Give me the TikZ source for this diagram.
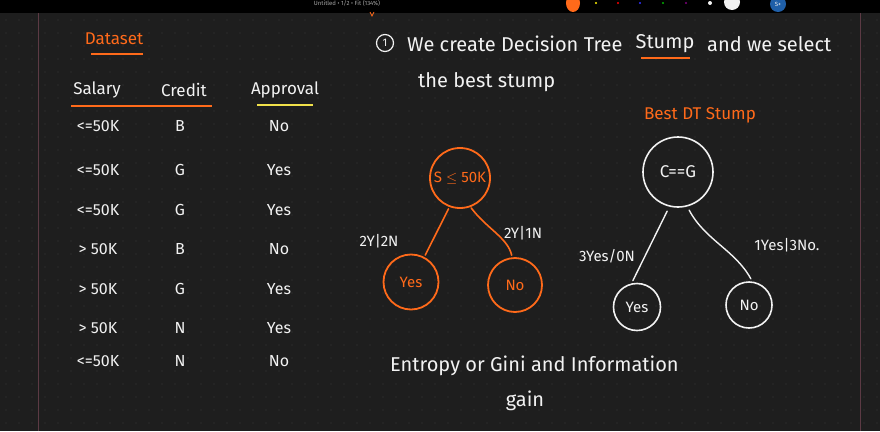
\documentclass[tikz,border=0pt]{standalone}
\usepackage{fontspec}
\setmainfont{Fira Sans}
\usetikzlibrary{positioning}
\definecolor{board}{HTML}{1E1E1E}
\definecolor{griddot}{HTML}{383838}
\definecolor{pen}{HTML}{FF6A1A}
\definecolor{chalk}{HTML}{F2F2F2}
\definecolor{marker}{HTML}{F0E04A}
\definecolor{margin}{HTML}{5C3A44}
\definecolor{barblue}{HTML}{1F5FA8}

\begin{document}
\begin{tikzpicture}[x=1pt,y=-1pt,
  txt/.style={text=chalk, font=\fontsize{16}{18}\selectfont, inner sep=0pt},
  head/.style={text=chalk, font=\fontsize{17}{19}\selectfont, inner sep=0pt},
  note/.style={text=chalk, font=\fontsize{20}{23}\selectfont, inner sep=0pt},
  otxt/.style={text=pen, font=\fontsize{17}{19}\selectfont, inner sep=0pt},
  onode/.style={circle, draw=pen, line width=1.8pt, text=pen,
                font=\fontsize{15}{17}\selectfont, inner sep=0pt},
  wnode/.style={circle, draw=chalk, line width=1.6pt, text=chalk,
                font=\fontsize{15}{17}\selectfont, inner sep=0pt},
  oedge/.style={draw=pen, line width=1.6pt, line cap=round},
  wedge/.style={draw=chalk, line width=1.4pt, line cap=round},
  elabel/.style={text=chalk, font=\fontsize{15}{17}\selectfont, inner sep=0pt},
  bartxt/.style={text=gray!70, font=\fontsize{6}{7}\selectfont, inner sep=0pt},
]
  \useasboundingbox (0,0) rectangle (880,431);
  \clip (0,0) rectangle (880,431);

  % Board with dot grid and margin lines
  \fill[board] (0,0) rectangle (880,431);
  \foreach \gx in {6,19,...,880}
    \foreach \gy in {20,33,...,431}
      \fill[griddot] (\gx,\gy) circle (0.55pt);
  \draw[margin, line width=0.8pt] (38,13) -- (38,431);
  \draw[margin, line width=0.8pt] (860,13) -- (860,431);

  % Toolbar strip across top
  \fill[black] (0,0) rectangle (880,13);
  \node[bartxt] (bartitle) at (347,3) {Untitled • 1/2 • Fit (134\%)};
  \fill[pen] (573,3) ellipse (7pt and 9pt);
  \foreach \dx/\dc in {596/yellow, 618/red, 640/blue!80, 663/green!70!black, 686/violet}
    \fill[\dc] (\dx,3) circle (1.2pt);
  \fill[chalk] (710,3) circle (2pt);
  \fill[chalk] (732,2) circle (8pt);
  \fill[barblue] (778,4) circle (8pt);
  \node[bartxt, text=chalk] (baruser) at (778,4) {S+};
  \draw[pen, line width=0.8pt] (370,12) -- (372,16) -- (374,12);

  % Dataset table
  \node[otxt] (dataset) at (114,39) {Dataset};
  \draw[pen, line width=1.6pt] (91,54) -- (143,54);
  \node[head] (salary) at (97,90) {Salary};
  \node[head] (credit) at (184,90) {Credit};
  \node[head] (approval) at (285,90) {Approval};
  \draw[pen, line width=1.8pt] (71,106) -- (212,106);
  \draw[marker, line width=1.8pt] (257,105) -- (313,105);
  \foreach \ry/\rs/\rc/\ra [count=\i] in {126/{<=50K}/B/No, 170/{<=50K}/G/Yes,
      210/{<=50K}/G/Yes, 249/{> 50K}/B/No, 289/{> 50K}/G/Yes,
      328/{> 50K}/N/Yes, 361/{<=50K}/N/No}{
    \node[txt] (sal\i) at (98,\ry) {\rs};
    \node[txt] (cre\i) at (180,\ry) {\rc};
    \node[txt] (app\i) at (279,\ry) {\ra};
  }

  % Step 1 text
  \node[circle, draw=chalk, line width=1.2pt, minimum size=17pt, inner sep=0pt,
        text=chalk, font=\fontsize{11}{12}\selectfont] (stepone) at (385,43) {1};
  \node[note, anchor=west] (stepa) at (407,44) {We create Decision Tree};
  \node[note] (stepstump) at (665,44) {Stump};
  \draw[pen, line width=1.6pt] (641,58) -- (690,58);
  \node[note, anchor=west] (stepb) at (707,44) {and we select};
  \node[note, anchor=west] (stepc) at (418,82) {the best stump};

  % Orange stump on salary
  \node[onode, minimum size=60pt] (sroot) at (460,178) {S $\leq$ 50K};
  \node[onode, minimum size=55pt] (syes) at (411,282) {Yes};
  \node[onode, minimum size=54pt] (sno) at (515,285) {No};
  \draw[oedge, shorten <=2pt, shorten >=2pt] (sroot.250) -- (syes.62);
  \draw[oedge, shorten <=1pt, shorten >=2pt] (sroot.290) .. controls (486,228) and (508,238) .. (sno.96);
  \node[elabel] (slabl) at (379,241) {2Y|2N};
  \node[elabel] (slabr) at (523,233) {2Y|1N};

  % White best stump on credit
  \node[otxt] (besttitle) at (700,115) {Best DT Stump};
  \node[wnode, minimum size=70pt, font=\fontsize{17}{19}\selectfont] (wroot) at (678,172) {C==G};
  \node[wnode, minimum size=47pt] (wyes) at (637,307) {Yes};
  \node[wnode, minimum size=46pt] (wno) at (749,305) {No};
  \draw[wedge, shorten <=5pt, shorten >=3pt] (wroot.256) -- (wyes.103);
  \draw[wedge, shorten <=4pt, shorten >=3pt] (wroot.285) .. controls (705,240) and (735,250) .. (wno.82);
  \node[elabel] (wlabl) at (607,256) {3Yes/0N};
  \node[elabel] (wlabr) at (787,245) {1Yes|3No.};

  % Closing note
  \node[note, anchor=west] (crit) at (390,366) {Entropy or Gini and Information};
  \node[note] (gain) at (525,401) {gain};
\end{tikzpicture}
\end{document}
